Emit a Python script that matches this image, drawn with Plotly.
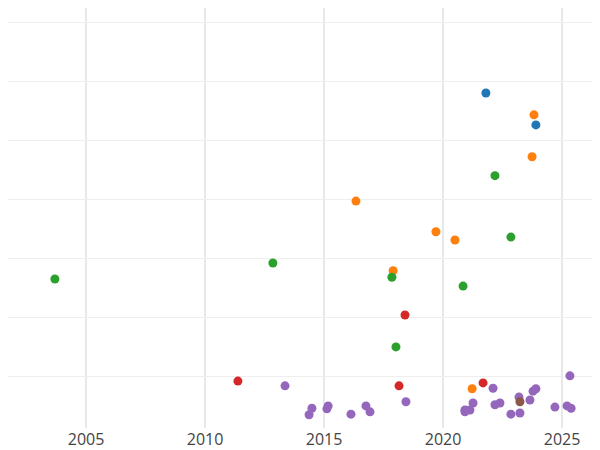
import plotly.graph_objects as go

blue_x = [2021.80, 2023.90]
blue_y = [5.81, 5.27]
orange_x = [2023.82, 2023.74, 2016.34, 2019.70, 2020.50, 2017.90, 2021.22]
orange_y = [5.44, 4.73, 3.98, 3.46, 3.32, 2.80, 0.80]
green_x = [2003.69, 2012.85, 2022.18, 2022.85, 2017.85, 2020.84, 2018.02]
green_y = [2.66, 2.93, 4.41, 3.37, 2.69, 2.54, 1.51]
red_x = [2018.40, 2011.38, 2021.68, 2018.15]
red_y = [2.05, 0.93, 0.90, 0.85]
purple_x = [2013.36, 2014.49, 2014.37, 2015.17, 2015.12, 2016.13, 2016.76, 2016.93, 2018.44,
            2020.92, 2021.13, 2020.92, 2021.26, 2022.10, 2022.18, 2022.39, 2022.85, 2023.19,
            2023.23, 2023.65, 2023.78, 2023.90, 2024.70, 2025.21, 2025.38, 2025.33]
purple_y = [0.85, 0.47, 0.36, 0.51, 0.46, 0.37, 0.51, 0.41, 0.58,
            0.44, 0.44, 0.41, 0.56, 0.81, 0.53, 0.56, 0.37, 0.66,
            0.39, 0.61, 0.76, 0.80, 0.49, 0.51, 0.47, 1.02]
brown_x = [2023.23]
brown_y = [0.58]

series = [(orange_x, orange_y, "#ff7f0e"), (green_x, green_y, "#2ca02c"),
          (red_x, red_y, "#d62728"), (purple_x, purple_y, "#9467bd"),
          (brown_x, brown_y, "#8c564b"), (blue_x, blue_y, "#1f77b4")]

fig = go.Figure()
for xs, ys, c in series:
    fig.add_trace(go.Scatter(x=xs, y=ys, mode="markers",
                             marker=dict(color=c, size=9), showlegend=False, cliponaxis=False))

fig.update_layout(width=600, height=450, margin=dict(l=0, r=0, t=0, b=30, pad=0),
                  paper_bgcolor="white", plot_bgcolor="white",
                  font=dict(family="Open Sans", size=16, color="#444"))
fig.update_xaxes(range=[2001.72, 2026.93], tickvals=[2005, 2010, 2015, 2020, 2025],
                 showgrid=True, gridcolor="#e8e8e8", gridwidth=2, zeroline=False,
                 automargin=False)
fig.update_yaxes(range=[0.136, 7.25], tickvals=[1, 2, 3, 4, 5, 6, 7], showticklabels=False,
                 showgrid=True, gridcolor="#eeeeee", zeroline=False, automargin=False)
fig.write_html("out.html")
